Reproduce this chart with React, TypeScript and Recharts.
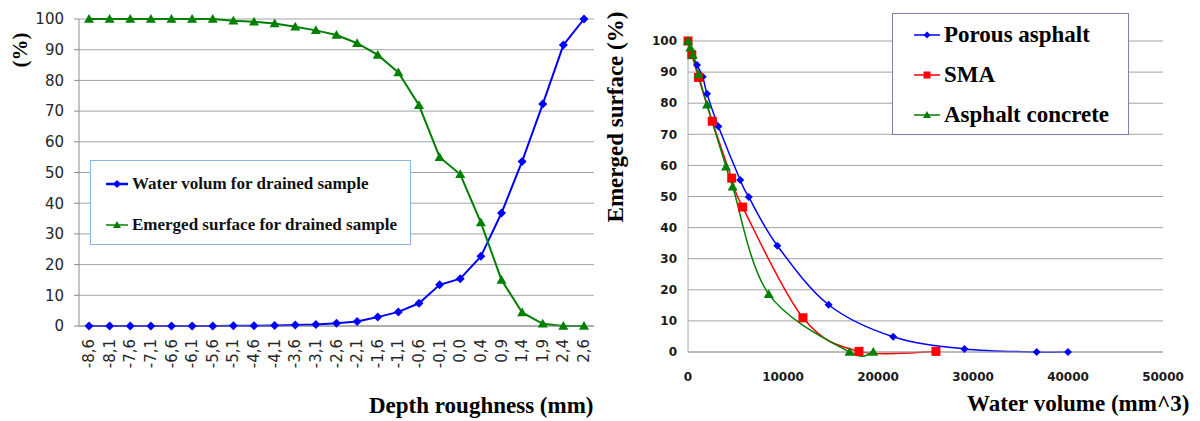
import React from 'react';
import { LineChart, Line, XAxis, YAxis, CartesianGrid, Legend } from 'recharts';

// left chart: depth roughness categories
const DEPTH = [
  '-8,6', '-8,1', '-7,6', '-7,1', '-6,6', '-6,1', '-5,6', '-5,1', '-4,6', '-4,1', '-3,6', '-3,1', '-2,6',
  '-2,1', '-1,6', '-1,1', '-0,6', '-0,1', '0,0', '0,4', '0,9', '1,4', '1,9', '2,4', '2,6',
];
const WATER_VOLUM = [
  0, 0, 0, 0, 0, 0, 0, 0.1, 0.1, 0.2, 0.3, 0.5, 0.9, 1.5, 2.9, 4.6, 7.4, 13.4, 15.4, 22.7, 36.8, 53.6, 72.3,
  91.5, 100,
];
const EMERGED = [
  100, 100, 100, 100, 100, 100, 100, 99.4, 99.1, 98.5, 97.5, 96.3, 94.8, 92.1, 88.3, 82.6, 71.9, 55.0, 49.4,
  33.7, 15.0, 4.4, 0.7, 0, 0,
];
const PCT_TICKS = [0, 10, 20, 30, 40, 50, 60, 70, 80, 90, 100];

// right chart: emerged surface vs water volume
const POROUS_X = [0, 250, 950, 1550, 2000, 3200, 5500, 6400, 9400, 14800, 21600, 29100, 36700, 40000];
const POROUS_Y = [100, 97, 92.3, 88.5, 83, 72.5, 55.3, 49.8, 34.2, 15.2, 4.9, 1.0, 0, 0];
const SMA_X = [0, 400, 1100, 2550, 4600, 5750, 12100, 18000, 26100];
const SMA_Y = [100, 95.6, 88.3, 74.2, 55.9, 46.6, 11, 0.2, 0.2];
const AC_X = [0, 250, 500, 1100, 2000, 4000, 4700, 8500, 17000, 19500];
const AC_Y = [100, 97.8, 95.5, 89.2, 79.5, 59.6, 53.1, 18.6, 0, 0];
const VOLUME_TICKS = [0, 10000, 20000, 30000, 40000, 50000];

const leftData = DEPTH.map((d, i) => ({ depth: d, water: WATER_VOLUM[i], emerged: EMERGED[i] }));
const toPoints = (xs: number[], ys: number[]) => xs.map((x, i) => ({ x, y: ys[i] }));
const porous = toPoints(POROUS_X, POROUS_Y);
const sma = toPoints(SMA_X, SMA_Y);
const concrete = toPoints(AC_X, AC_Y);

const BLUE = '#0000ff';
const GREEN = '#008000';
const RED = '#ff0000';
const GRID = '#a3a3a3';
const SERIF = '"Liberation Serif", "Times New Roman", serif';
const SANS = '"DejaVu Sans", Verdana, sans-serif';

// Excel-like smoothed line (Catmull-Rom through the points)
const smoothCurve: any = (context: any) => {
  let pts: number[][] = [];
  return {
    areaStart() {},
    areaEnd() {},
    lineStart() {
      pts = [];
    },
    point(x: number, y: number) {
      pts.push([+x, +y]);
    },
    lineEnd() {
      if (!pts.length) return;
      context.moveTo(pts[0][0], pts[0][1]);
      for (let i = 0; i < pts.length - 1; i++) {
        const p0 = pts[Math.max(i - 1, 0)];
        const p1 = pts[i];
        const p2 = pts[i + 1];
        const p3 = pts[Math.min(i + 2, pts.length - 1)];
        context.bezierCurveTo(
          p1[0] + (p2[0] - p0[0]) / 6,
          p1[1] + (p2[1] - p0[1]) / 6,
          p2[0] - (p3[0] - p1[0]) / 6,
          p2[1] - (p3[1] - p1[1]) / 6,
          p2[0],
          p2[1],
        );
      }
    },
  };
};

const Marker = ({ shape, cx, cy, r, fill }: any) => {
  if (shape === 'diamond')
    return <path d={`M${cx},${cy - r}L${cx + r},${cy}L${cx},${cy + r}L${cx - r},${cy}Z`} fill={fill} />;
  if (shape === 'triangle')
    return <path d={`M${cx},${cy - r}L${cx + r},${cy + r * 0.75}L${cx - r},${cy + r * 0.75}Z`} fill={fill} />;
  return <rect x={cx - r} y={cy - r} width={r * 2} height={r * 2} fill={fill} />;
};

const dotOf = (shape: string, fill: string, r: number) => (p: any) => (
  <Marker key={`${shape}-${p.index}`} shape={shape} cx={p.cx} cy={p.cy} r={r} fill={fill} />
);

const RotatedTick = ({ x, y, payload }: any) => (
  <g transform={`translate(${x},${y})`}>
    <text
      x={-13}
      y={0}
      dy={5}
      transform="rotate(-90)"
      textAnchor="end"
      fontFamily={SANS}
      fontSize={15}
      fill="#262626"
    >
      {payload.value}
    </text>
  </g>
);

const LegendRow = ({ shape, color, label, width, r, lineW }: any) => (
  <div style={{ display: 'flex', alignItems: 'center', height: 20 }}>
    <svg width={width} height={14} style={{ flex: 'none' }}>
      <line x1={0} x2={width} y1={7} y2={7} stroke={color} strokeWidth={lineW} />
      <Marker shape={shape} cx={width / 2} cy={7} r={r} fill={color} />
    </svg>
    <span style={{ marginLeft: 4, whiteSpace: 'nowrap' }}>{label}</span>
  </div>
);

const LeftLegend = () => (
  <div
    style={{
      width: 321,
      height: 85,
      boxSizing: 'border-box',
      border: '1px solid #8db3e2',
      background: '#fff',
      padding: '13px 0 0 15px',
      fontFamily: SERIF,
      fontWeight: 'bold',
      fontSize: 17,
      color: '#111',
    }}
  >
    <LegendRow shape="diamond" color={BLUE} label="Water volum for drained sample" width={22} r={4} lineW={2.5} />
    <div style={{ height: 21 }} />
    <LegendRow shape="triangle" color={GREEN} label="Emerged surface for drained sample" width={22} r={4} lineW={1.5} />
  </div>
);

const RightLegend = () => (
  <div
    style={{
      width: 237,
      height: 122,
      boxSizing: 'border-box',
      border: '1.5px solid #7f7fb2',
      background: '#fff',
      padding: '11px 0 0 21px',
      fontFamily: SERIF,
      fontWeight: 'bold',
      fontSize: 23,
      color: '#000',
    }}
  >
    <LegendRow shape="diamond" color={BLUE} label="Porous asphalt" width={26} r={3.5} lineW={1.5} />
    <div style={{ height: 20 }} />
    <LegendRow shape="square" color={RED} label="SMA" width={26} r={3.5} lineW={1.5} />
    <div style={{ height: 20 }} />
    <LegendRow shape="triangle" color={GREEN} label="Asphalt concrete" width={26} r={4} lineW={1.5} />
  </div>
);

const Rotated = ({ cx, cy, size, children }: any) => (
  <div
    style={{
      position: 'absolute',
      left: cx,
      top: cy,
      transform: 'translate(-50%, -50%) rotate(-90deg)',
      whiteSpace: 'nowrap',
      fontFamily: SERIF,
      fontWeight: 'bold',
      fontSize: size,
      color: '#000',
    }}
  >
    {children}
  </div>
);

export default function App() {
  return (
    <div style={{ position: 'absolute', left: 0, top: 0, width: 1200, height: 421, background: '#fff', overflow: 'hidden' }}>
      <div style={{ position: 'absolute', left: 0, top: 0 }}>
        <LineChart width={600} height={421} data={leftData} margin={{ top: 19, right: 6, bottom: 45, left: 19 }}>
          <CartesianGrid vertical={false} stroke={GRID} />
          <XAxis
            dataKey="depth"
            interval={0}
            height={50}
            padding={{ left: 10, right: 10 }}
            tickLine={false}
            tickSize={0}
            tickMargin={0}
            axisLine={{ stroke: '#8c8c8c' }}
            tick={<RotatedTick />}
          />
          <YAxis
            width={60}
            domain={[0, 100]}
            ticks={PCT_TICKS}
            interval={0}
            tickSize={5}
            tickMargin={10}
            tickLine={{ stroke: '#8c8c8c' }}
            axisLine={{ stroke: '#8c8c8c' }}
            tick={{ fontFamily: SANS, fontSize: 15, fill: '#262626' }}
          />
          <Line
            dataKey="water"
            name="Water volum for drained sample"
            stroke={BLUE}
            strokeWidth={2}
            dot={dotOf('diamond', BLUE, 4.5)}
            isAnimationActive={false}
          />
          <Line
            dataKey="emerged"
            name="Emerged surface for drained sample"
            stroke={GREEN}
            strokeWidth={2}
            dot={dotOf('triangle', GREEN, 5)}
            isAnimationActive={false}
          />
          <Legend
            layout="vertical"
            align="center"
            verticalAlign="middle"
            wrapperStyle={{ left: 90, top: 160, width: 321, height: 85 }}
            content={() => <LeftLegend />}
          />
        </LineChart>
      </div>

      <div style={{ position: 'absolute', left: 600, top: 0 }}>
        <LineChart width={600} height={421} margin={{ top: 41, right: 37, bottom: 39, left: 28 }}>
          <CartesianGrid vertical={false} stroke={GRID} />
          <XAxis
            dataKey="x"
            type="number"
            domain={[0, 50000]}
            ticks={VOLUME_TICKS}
            interval={0}
            height={30}
            tickLine={false}
            tickSize={0}
            tickMargin={20}
            axisLine={{ stroke: '#a6a6a6' }}
            tick={{ fontFamily: SANS, fontSize: 12, fontWeight: 'bold', fill: '#1a1a1a' }}
          />
          <YAxis
            width={60}
            domain={[0, 100]}
            ticks={PCT_TICKS}
            interval={0}
            tickLine={false}
            tickSize={0}
            tickMargin={11}
            axisLine={{ stroke: '#a6a6a6' }}
            tick={{ fontFamily: SANS, fontSize: 12, fontWeight: 'bold', fill: '#1a1a1a' }}
          />
          <Line
            data={porous}
            dataKey="y"
            name="Porous asphalt"
            type={smoothCurve}
            stroke={BLUE}
            strokeWidth={1.5}
            dot={dotOf('diamond', BLUE, 4)}
            isAnimationActive={false}
          />
          <Line
            data={sma}
            dataKey="y"
            name="SMA"
            type={smoothCurve}
            stroke={RED}
            strokeWidth={1.5}
            dot={dotOf('square', RED, 4.5)}
            isAnimationActive={false}
          />
          <Line
            data={concrete}
            dataKey="y"
            name="Asphalt concrete"
            type={smoothCurve}
            stroke={GREEN}
            strokeWidth={1.5}
            dot={dotOf('triangle', GREEN, 5)}
            isAnimationActive={false}
          />
          <Legend
            layout="vertical"
            align="center"
            verticalAlign="middle"
            wrapperStyle={{ left: 292, top: 13, width: 237, height: 122 }}
            content={() => <RightLegend />}
          />
        </LineChart>
      </div>

      <Rotated cx={20} cy={50} size={21}>(%)</Rotated>
      <div
        style={{
          position: 'absolute',
          left: 369,
          top: 393,
          whiteSpace: 'nowrap',
          fontFamily: SERIF,
          fontWeight: 'bold',
          fontSize: 23,
          lineHeight: '26px',
          color: '#000',
        }}
      >
        Depth roughness (mm)
      </div>
      <Rotated cx={616} cy={117} size={23}>Emerged surface (%)</Rotated>
      <div
        style={{
          position: 'absolute',
          left: 967,
          top: 391,
          whiteSpace: 'nowrap',
          fontFamily: SERIF,
          fontWeight: 'bold',
          fontSize: 23,
          lineHeight: '26px',
          color: '#000',
        }}
      >
        Water volume (mm^3)
      </div>
    </div>
  );
}
